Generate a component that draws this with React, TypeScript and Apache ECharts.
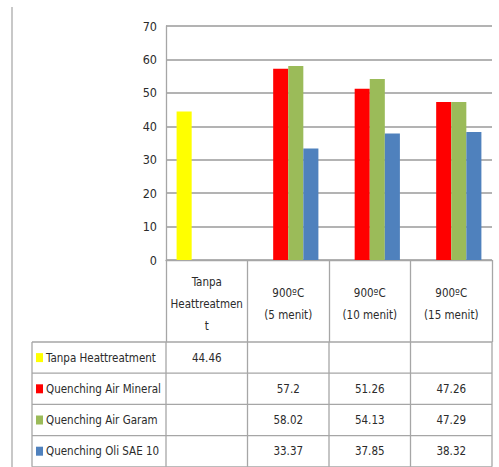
import React, { useEffect, useRef } from "react";
import * as echarts from "echarts";

const categories = ["Tanpa\nHeattreatmen\nt", "900ºC\n(5 menit)", "900ºC\n(10 menit)", "900ºC\n(15 menit)"];
const seriesNames = ["Tanpa Heattreatment", "Quenching Air Mineral", "Quenching Air Garam", "Quenching Oli SAE 10"];
const seriesColors = ["#FFFF00", "#FF0000", "#9BBB59", "#4F81BD"];
const tanpaHeat: (number | null)[] = [44.46, null, null, null];
const airMineral: (number | null)[] = [null, 57.2, 51.26, 47.26];
const airGaram: (number | null)[] = [null, 58.02, 54.13, 47.29];
const oliSae10: (number | null)[] = [null, 33.37, 37.85, 38.32];
const seriesValues = [tanpaHeat, airMineral, airGaram, oliSae10];

const FONT = "'Liberation Sans Narrow', 'DejaVu Sans Condensed', 'Liberation Sans', sans-serif";
const LINE = "#a6a6a6";
const TEXT = "#2b2b2b";

// plot area geometry
const W = 499;
const H = 467;
const PLOT_L = 166;
const PLOT_R = 492;
const PLOT_T = 26;
const PLOT_B = 260;
const HEADER_B = 342;
const ROW_H = 31.2;
const TABLE_L = 32;

export default function App() {
  const ref = useRef<HTMLDivElement>(null);

  useEffect(() => {
    if (!ref.current) return;
    const chart = echarts.init(ref.current, undefined, { renderer: "svg" });

    const colW = (PLOT_R - PLOT_L) / categories.length;
    const graphic: any[] = [];

    // thin page rule on the left
    graphic.push({
      type: "line",
      shape: { x1: 12, y1: 7, x2: 12, y2: H },
      style: { stroke: "#c8c8c8", lineWidth: 2 },
    });

    // table horizontal lines
    for (let r = 0; r <= seriesNames.length; r++) {
      const y = HEADER_B + r * ROW_H;
      graphic.push({
        type: "line",
        shape: { x1: TABLE_L, y1: y, x2: PLOT_R, y2: y },
        style: { stroke: LINE, lineWidth: 1.3 },
      });
    }
    // table vertical lines
    const vx = [TABLE_L];
    for (let c = 0; c <= categories.length; c++) vx.push(PLOT_L + c * colW);
    vx.forEach((x) => {
      graphic.push({
        type: "line",
        shape: { x1: x, y1: HEADER_B, x2: x, y2: HEADER_B + ROW_H * seriesNames.length },
        style: { stroke: LINE, lineWidth: 1.3 },
      });
    });

    // rows: legend key, name, values
    seriesNames.forEach((name, r) => {
      const cy = HEADER_B + r * ROW_H + ROW_H / 2;
      graphic.push({
        type: "rect",
        shape: { x: 36, y: cy - 4.5, width: 7, height: 9 },
        style: { fill: seriesColors[r] },
      });
      graphic.push({
        type: "text",
        x: 46,
        y: cy,
        style: { text: name, font: `11.5px ${FONT}`, fill: TEXT, verticalAlign: "middle", align: "left" },
      });
      seriesValues[r].forEach((v, c) => {
        if (v === null) return;
        graphic.push({
          type: "text",
          x: PLOT_L + c * colW + colW / 2,
          y: cy,
          style: { text: String(v), font: `11.5px ${FONT}`, fill: TEXT, verticalAlign: "middle", align: "center" },
        });
      });
    });

    chart.setOption({
      animation: false,
      grid: { left: PLOT_L, right: W - PLOT_R, top: PLOT_T, bottom: H - PLOT_B },
      xAxis: {
        type: "category",
        data: categories,
        axisLine: { show: true, lineStyle: { color: LINE, width: 1.3 } },
        axisTick: { show: true, length: HEADER_B - PLOT_B, lineStyle: { color: LINE, width: 1.3 } },
        axisLabel: {
          color: TEXT,
          fontFamily: FONT,
          fontSize: 11.5,
          lineHeight: 22,
          margin: (HEADER_B - PLOT_B) / 2 + 3,
          interval: 0,
          verticalAlign: "middle",
        },
      },
      yAxis: {
        type: "value",
        min: 0,
        max: 70,
        interval: 10,
        axisLine: { show: true, lineStyle: { color: LINE, width: 1.3 } },
        axisTick: { show: false },
        axisLabel: { color: TEXT, fontFamily: FONT, fontSize: 12.5, margin: 9 },
        splitLine: { lineStyle: { color: "#9a9a9a", width: 1.5 } },
      },
      series: seriesNames.map((name, i) => ({
        name,
        type: "bar",
        data: seriesValues[i],
        barGap: "0%",
        barCategoryGap: "26%",
        itemStyle: { color: seriesColors[i] },
      })),
      graphic,
    });

    return () => chart.dispose();
  }, []);

  return <div ref={ref} style={{ width: W, height: H, position: "absolute", left: 0, top: 0 }} />;
}
